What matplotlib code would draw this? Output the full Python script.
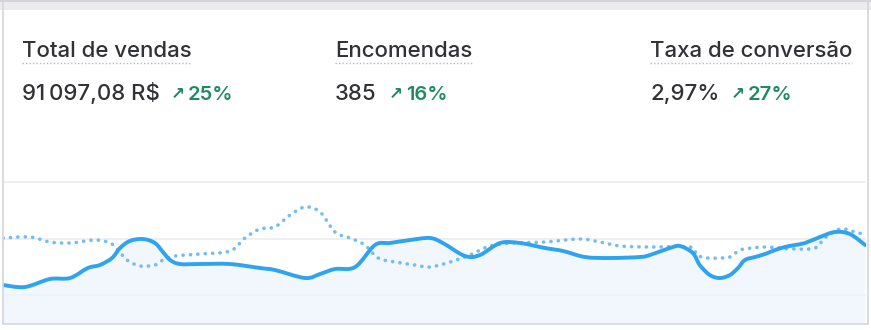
"""Card-style KPI summary with current vs previous sales sparkline."""

import matplotlib

matplotlib.use("Agg")
import matplotlib.pyplot as plt  # noqa: E402
from matplotlib.patches import PathPatch, Rectangle  # noqa: E402
from matplotlib.path import Path  # noqa: E402

# KPI header data
kpi_titles = ["Total de vendas", "Encomendas", "Taxa de conversão"]
kpi_values = ["91\u2009097,08 R$", "385", "2,97%"]
kpi_changes = ["25%", "16%", "27%"]

# current period (solid) – day, sales
cur_days = [0.0, 0.76, 1.63, 2.33, 2.95, 3.37, 3.79, 4.07, 4.41, 4.87, 5.28,
            5.56, 5.81, 6.15, 6.85, 7.89, 8.93, 9.45, 10.50, 11.02, 11.54,
            12.24, 12.93, 13.45, 14.15, 14.84, 15.29, 16.06, 16.58, 17.28,
            17.97, 18.84, 19.47, 20.23, 21.10, 22.14, 22.49, 23.18, 23.53,
            23.98, 24.22, 24.57, 24.92, 25.27, 25.55, 25.79, 26.14, 26.49,
            26.84, 27.18, 27.53, 27.88, 28.40, 28.92, 29.44, 29.97]
cur_sales = [354, 283, 566, 602, 956, 1062, 1310, 1664, 1912, 1982, 1841,
             1522, 1239, 1097, 1097, 1097, 956, 885, 602, 743, 920,
             991, 1770, 1841, 1947, 2018, 1841, 1381, 1416, 1841,
             1841, 1664, 1558, 1345, 1310, 1345, 1416, 1664, 1735,
             1487, 1062, 708, 602, 708, 956, 1239, 1345, 1451,
             1593, 1699, 1770, 1841, 2053, 2230, 2159, 1770]

# previous period (dotted) – day, sales
prev_days = [0.0, 0.94, 1.63, 2.33, 3.20, 3.72, 4.00, 4.31, 4.76, 5.28, 5.56,
             5.98, 6.85, 7.89, 8.41, 8.93, 9.45, 9.98, 10.50, 11.02, 11.54,
             12.06, 12.58, 13.04, 13.63, 14.32, 14.84, 15.54, 16.23, 16.93,
             17.80, 18.84, 20.06, 20.75, 21.45, 22.49, 23.88, 24.12, 24.50,
             24.92, 25.27, 25.62, 26.03, 26.49, 27.01, 27.53, 28.23, 28.57,
             29.10, 29.62, 30.0]
prev_sales = [2018, 2053, 1876, 1841, 1947, 1841, 1593, 1239, 1027, 1062, 1239,
              1381, 1451, 1558, 2018, 2336, 2407, 2832, 3115, 2938, 2230,
              2018, 1770, 1310, 1168, 1062, 991, 1168, 1416, 1735,
              1841, 1876, 1982, 1876, 1735, 1699, 1699, 1416, 1310,
              1310, 1345, 1593, 1664, 1699, 1664, 1628, 1664, 2018,
              2336, 2230, 2124]

grid_levels = [0, 2000, 4000]

W, H = 871, 330
fig = plt.figure(figsize=(W / 100, H / 100), dpi=100)
fig.patch.set_facecolor("white")


def px(x, y):
    return x / W, 1 - y / H


def smooth_path(xs, ys, close_to=None):
    # Catmull-Rom through the points, drawn as cubic Bezier segments
    pts = list(zip(xs, ys))
    verts = [pts[0]]
    codes = [Path.MOVETO]
    n = len(pts)
    for i in range(n - 1):
        p0 = pts[max(i - 1, 0)]
        p1 = pts[i]
        p2 = pts[i + 1]
        p3 = pts[min(i + 2, n - 1)]
        c1 = (p1[0] + (p2[0] - p0[0]) / 6, p1[1] + (p2[1] - p0[1]) / 6)
        c2 = (p2[0] - (p3[0] - p1[0]) / 6, p2[1] - (p3[1] - p1[1]) / 6)
        verts += [c1, c2, p2]
        codes += [Path.CURVE4] * 3
    if close_to is not None:
        verts += [(xs[-1], close_to), (xs[0], close_to), pts[0]]
        codes += [Path.LINETO, Path.LINETO, Path.CLOSEPOLY]
    return Path(verts, codes)


# top strip and card border
fig.patches.append(Rectangle((0, 1 - 10 / H), 1, 10 / H, transform=fig.transFigure,
                             facecolor="#ececf0", edgecolor="none", zorder=0))
fig.patches.append(Rectangle((0, 1 - 1.5 / H), 1, 1.5 / H, transform=fig.transFigure,
                             facecolor="#d3d3d8", edgecolor="none", zorder=0))
fig.patches.append(Rectangle(px(2.5, 323.5), 865.5 / W, 323.5 / H,
                             transform=fig.transFigure, facecolor="none",
                             edgecolor="#d6d6da", linewidth=1.2, zorder=1))

font = ["Inter", "DejaVu Sans"]
text_col = "#303236"
green = "#1f8a5f"
title_x = [22, 335, 650]
arrow_x = [171, 389, 731]
for i in range(3):
    t = fig.text(*px(title_x[i], 57), kpi_titles[i], fontsize=16, color=text_col,
                 family=font, fontweight="medium", va="baseline", ha="left")
    fig.canvas.draw()
    bb = t.get_window_extent()
    fig.add_artist(plt.Line2D([bb.x0 / W, bb.x1 / W], [1 - 62.5 / H] * 2,
                              transform=fig.transFigure, color="#b8b8be",
                              linestyle=(0, (1, 1.5)), linewidth=1.0))
    fig.text(*px(title_x[i], 99.5), kpi_values[i], fontsize=16, color=text_col,
             family=font, fontweight="medium", va="baseline", ha="left")
    fig.text(*px(arrow_x[i], 99), "\u2197", fontsize=12, color=green,
             family=["DejaVu Sans"], fontweight="bold", va="baseline", ha="left")
    fig.text(*px(arrow_x[i] + 17, 99.5), kpi_changes[i], fontsize=14.5,
             color=green, family=font, fontweight="semibold",
             va="baseline", ha="left")

# sparkline axes
ax = fig.add_axes([3 / W, 1 - 323 / H, 863 / W, (323 - 175) / H])
ax.set_facecolor("none")
ax.set_xlim(0, 30)
ax.set_ylim(-991, 4248)
for g in grid_levels:
    ax.axhline(g, color="#ececf0", linewidth=1.2, zorder=0)
ax.add_patch(PathPatch(smooth_path(cur_days, cur_sales, close_to=-991),
                       facecolor="#eef5fd", alpha=0.8, edgecolor="none", zorder=1))
ax.add_patch(PathPatch(smooth_path(prev_days, prev_sales), facecolor="none",
                       edgecolor="#74bdf0", linestyle=(0, (0.05, 2.0)),
                       linewidth=2.6, capstyle="round", zorder=2))
ax.add_patch(PathPatch(smooth_path(cur_days, cur_sales), facecolor="none",
                       edgecolor="#2fa2f0", linewidth=2.8, capstyle="round",
                       joinstyle="round", zorder=3))
ax.axis("off")

fig.savefig("out.png", dpi=100, facecolor="white")
